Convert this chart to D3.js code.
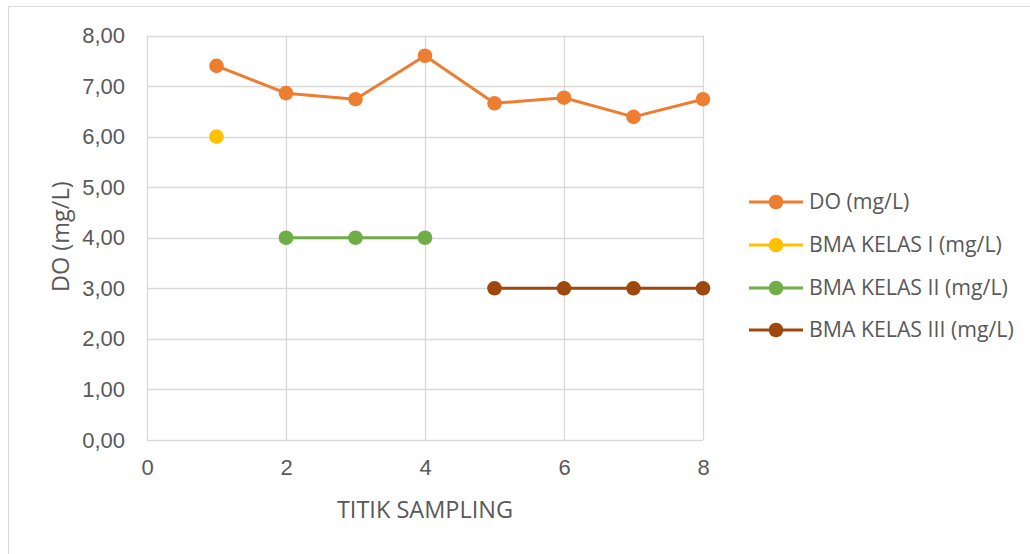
<!DOCTYPE html>
<html>
<head>
<meta charset="utf-8">
<script src="https://cdn.jsdelivr.net/npm/d3@7"></script>
<style>
  html, body { margin: 0; padding: 0; background: #fff; }
  svg { display: block; font-family: "Open Sans", "Liberation Sans", sans-serif; }
</style>
</head>
<body>
<svg id="chart" width="1030" height="554"></svg>
<script>
// Sampling points 1..8
const samplingPoints = [1, 2, 3, 4, 5, 6, 7, 8];
// Measured dissolved oxygen
const doValues = [7.40, 6.86, 6.74, 7.60, 6.66, 6.77, 6.39, 6.74];
// Water quality standards (BMA) per class, at the points where they apply
const kelas1Points = [1];
const kelas1Values = [6];
const kelas2Points = [2, 3, 4];
const kelas2Values = [4, 4, 4];
const kelas3Points = [5, 6, 7, 8];
const kelas3Values = [3, 3, 3, 3];

const xTicks = [0, 2, 4, 6, 8];
const yTicks = [0, 1, 2, 3, 4, 5, 6, 7, 8];
const seriesNames = ["DO (mg/L)", "BMA KELAS I (mg/L)", "BMA KELAS II (mg/L)", "BMA KELAS III (mg/L)"];
const seriesColors = ["#ED7D31", "#FFC000", "#70AD47", "#9E480E"];

const series = [
  { name: seriesNames[0], color: seriesColors[0], xs: samplingPoints, ys: doValues },
  { name: seriesNames[1], color: seriesColors[1], xs: kelas1Points, ys: kelas1Values },
  { name: seriesNames[2], color: seriesColors[2], xs: kelas2Points, ys: kelas2Values },
  { name: seriesNames[3], color: seriesColors[3], xs: kelas3Points, ys: kelas3Values }
];

const svg = d3.select("#chart");
const textColor = "#595959";
const gridColor = "#d9d9d9";

// chart frame
svg.append("rect")
  .attr("x", 8.5).attr("y", 6.5)
  .attr("width", 1040).attr("height", 560)
  .attr("fill", "none").attr("stroke", gridColor).attr("stroke-width", 1);

const plot = { left: 147, right: 703, top: 35.5, bottom: 440 };
const x = d3.scaleLinear().domain([0, 8]).range([plot.left, plot.right]);
const y = d3.scaleLinear().domain([0, 8]).range([plot.bottom, plot.top]);

// gridlines
const grid = svg.append("g");
grid.selectAll("line.h").data(yTicks).join("line")
  .attr("x1", plot.left).attr("x2", plot.right)
  .attr("y1", d => Math.round(y(d)) + 0.5).attr("y2", d => Math.round(y(d)) + 0.5)
  .attr("stroke", gridColor).attr("stroke-width", 1.3);
grid.selectAll("line.v").data(xTicks).join("line")
  .attr("x1", d => Math.round(x(d)) + 0.5).attr("x2", d => Math.round(x(d)) + 0.5)
  .attr("y1", plot.top).attr("y2", plot.bottom)
  .attr("stroke", gridColor).attr("stroke-width", 1.3);

// axes (labels only, lines come from the grid)
const fmt = d => d3.format(".2f")(d).replace(".", ",");
const yAxis = svg.append("g")
  .attr("transform", `translate(${plot.left},0)`)
  .call(d3.axisLeft(y).tickValues(yTicks).tickFormat(fmt).tickSize(0).tickPadding(22));
const xAxis = svg.append("g")
  .attr("transform", `translate(0,${plot.bottom})`)
  .call(d3.axisBottom(x).tickValues(xTicks).tickFormat(d3.format("d")).tickSize(0).tickPadding(19));
[yAxis, xAxis].forEach(g => {
  g.select(".domain").remove();
  g.selectAll("text").attr("fill", textColor).style("font-size", "22px");
});

// axis titles
svg.append("text")
  .attr("x", x(4)).attr("y", 518)
  .attr("text-anchor", "middle")
  .attr("fill", textColor).style("font-size", "23.5px")
  .text("TITIK SAMPLING");
svg.append("text")
  .attr("transform", `translate(69,${y(4) - 1}) rotate(-90)`)
  .attr("text-anchor", "middle")
  .attr("fill", textColor).style("font-size", "23.5px")
  .text("DO (mg/L)");

// series lines and markers
const line = d3.line().x(d => x(d[0])).y(d => y(d[1]));
series.forEach(s => {
  const pts = s.xs.map((v, i) => [v, s.ys[i]]);
  const g = svg.append("g");
  if (pts.length > 1) {
    g.append("path").attr("d", line(pts))
      .attr("fill", "none").attr("stroke", s.color)
      .attr("stroke-width", 3).attr("stroke-linejoin", "round");
  }
  g.selectAll("circle").data(pts).join("circle")
    .attr("cx", d => x(d[0])).attr("cy", d => y(d[1]))
    .attr("r", 7.3).attr("fill", s.color);
});

// legend
const legend = svg.append("g").attr("transform", "translate(749,0)");
const rowY = [202, 245, 288, 330];
series.forEach((s, i) => {
  const r = legend.append("g").attr("transform", `translate(0,${rowY[i]})`);
  r.append("line").attr("x1", 0).attr("x2", 54).attr("y1", 0).attr("y2", 0)
    .attr("stroke", s.color).attr("stroke-width", 3);
  r.append("circle").attr("cx", 27).attr("cy", 0).attr("r", 7.3).attr("fill", s.color);
  r.append("text").attr("x", 60).attr("y", 0).attr("dy", "0.35em")
    .attr("fill", textColor).style("font-size", "21.3px").text(s.name);
});
</script>
</body>
</html>
